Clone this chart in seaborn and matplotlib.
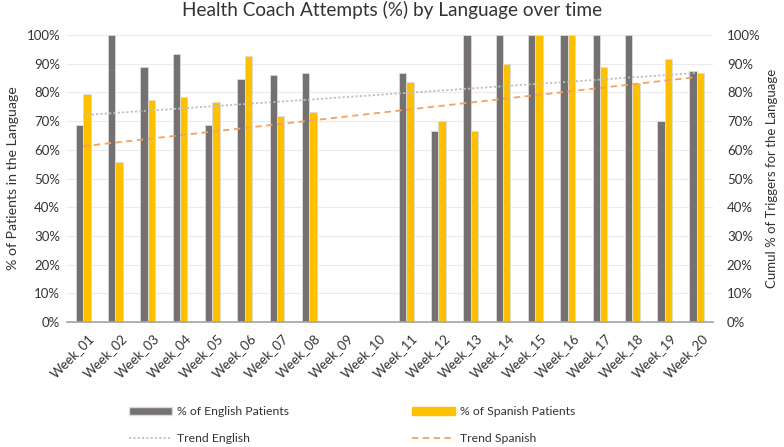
import numpy as np
import pandas as pd
import matplotlib
matplotlib.use("Agg")
import matplotlib.pyplot as plt
import matplotlib.transforms as mtransforms
from matplotlib.patches import Patch
from matplotlib.lines import Line2D
from matplotlib.ticker import PercentFormatter
import seaborn as sns

weeks = [f"Week_{i:02d}" for i in range(1, 21)]
english = [68.8, 100, 88.9, 93.4, 68.8, 84.8, 86.0, 86.8, np.nan, np.nan,
           86.8, 66.7, 100, 100, 100, 100, 100, 100, 70.0, 87.6]
spanish = [79.5, 55.8, 77.4, 78.3, 76.6, 92.6, 71.7, 73.3, np.nan, np.nan,
           83.5, 70.0, 66.7, 90.0, 100, 100, 88.9, 83.3, 91.7, 86.8]
series_names = ["% of English Patients", "% of Spanish Patients"]
trend_names = ["Trend English", "Trend Spanish"]
y_ticks = list(range(0, 101, 10))

GRAY = "#767171"
GOLD = "#FFC000"
TREND_GRAY = "#BFBFBF"
TREND_ORANGE = "#F4A261"
TXT = "#333333"

sns.set_theme(style="white")
plt.rcParams["font.family"] = ["Lato", "DejaVu Sans"]

df = pd.DataFrame({
    "week": weeks * 2,
    "value": english + spanish,
    "series": [series_names[0]] * 20 + [series_names[1]] * 20,
})

fig = plt.figure(figsize=(7.84, 4.47), dpi=100)
ax = fig.add_axes([67 / 784, 1 - 322 / 447, (713 - 67) / 784, (322 - 35) / 447])

sns.barplot(data=df, x="week", y="value", hue="series", order=weeks,
            palette=[GRAY, GOLD], width=0.46, gap=0, ax=ax, legend=False,
            saturation=1, linewidth=0.6, edgecolor="#dcdcdc")

# linear trendlines (blank weeks counted as zero, as in the source)
xs = np.arange(len(weeks))
for vals, color, ls, lw in [(english, TREND_GRAY, (0, (1.2, 1.2)), 1.3),
                            (spanish, TREND_ORANGE, (0, (3.5, 2.5)), 1.3)]:
    v = np.nan_to_num(np.array(vals, dtype=float))
    m, b = np.polyfit(xs + 1, v, 1)
    ax.plot(xs, m * (xs + 1) + b, color=color, linestyle=ls, linewidth=lw, zorder=3)

ax.set_ylim(0, 100)
ax.set_xlim(-0.5, len(weeks) - 0.5)
ax.set_yticks(y_ticks)
ax.yaxis.set_major_formatter(PercentFormatter(decimals=0))
ax.grid(axis="y", color="#EBEBEB", linewidth=0.8)
ax.set_axisbelow(True)
for s in ["top", "right", "left"]:
    ax.spines[s].set_visible(False)
ax.spines["bottom"].set_color("#A6A6A6")
ax.tick_params(axis="y", labelsize=9.5, colors=TXT, length=0, pad=5)
ax.tick_params(axis="x", labelsize=9.5, colors=TXT, length=0, pad=7)
offset = mtransforms.ScaledTranslation(5 / 100, 0, fig.dpi_scale_trans)
for lab in ax.get_xticklabels():
    lab.set_rotation(45)
    lab.set_ha("right")
    lab.set_rotation_mode("anchor")
    lab.set_transform(lab.get_transform() + offset)
ax.set_xlabel("")
ax.set_ylabel("% of Patients in the Language", fontsize=10.2, color=TXT, labelpad=5)

ax2 = ax.twinx()
ax2.set_ylim(0, 100)
ax2.set_yticks(y_ticks)
ax2.yaxis.set_major_formatter(PercentFormatter(decimals=0))
for s in ["top", "right", "left", "bottom"]:
    ax2.spines[s].set_visible(False)
ax2.tick_params(axis="y", labelsize=9.5, colors=TXT, length=0, pad=10)
ax2.set_ylabel("Cumul % of Triggers for the Language", fontsize=9.5, color=TXT, labelpad=4)

fig.suptitle("Health Coach Attempts (%) by Language over time", x=0.5, y=0.998,
             fontsize=13.7, color=TXT, va="top")

handles = [
    Patch(facecolor=GRAY, edgecolor="#dcdcdc", label=series_names[0]),
    Line2D([0], [0], color=TREND_GRAY, linestyle=(0, (1.2, 1.2)), lw=1.3, label=trend_names[0]),
    Patch(facecolor=GOLD, edgecolor=GOLD, label=series_names[1]),
    Line2D([0], [0], color=TREND_ORANGE, linestyle=(0, (3.5, 2.5)), lw=1.3, label=trend_names[1]),
]
fig.legend(handles=handles, ncol=2, loc="upper left",
           bbox_to_anchor=(118 / 784, 1 - 395 / 447), frameon=False,
           fontsize=8.8, handlelength=3.5, handleheight=0.6, columnspacing=10.1,
           labelspacing=1.3, handletextpad=0.4, labelcolor=TXT)

fig.savefig("out.png", dpi=100)
